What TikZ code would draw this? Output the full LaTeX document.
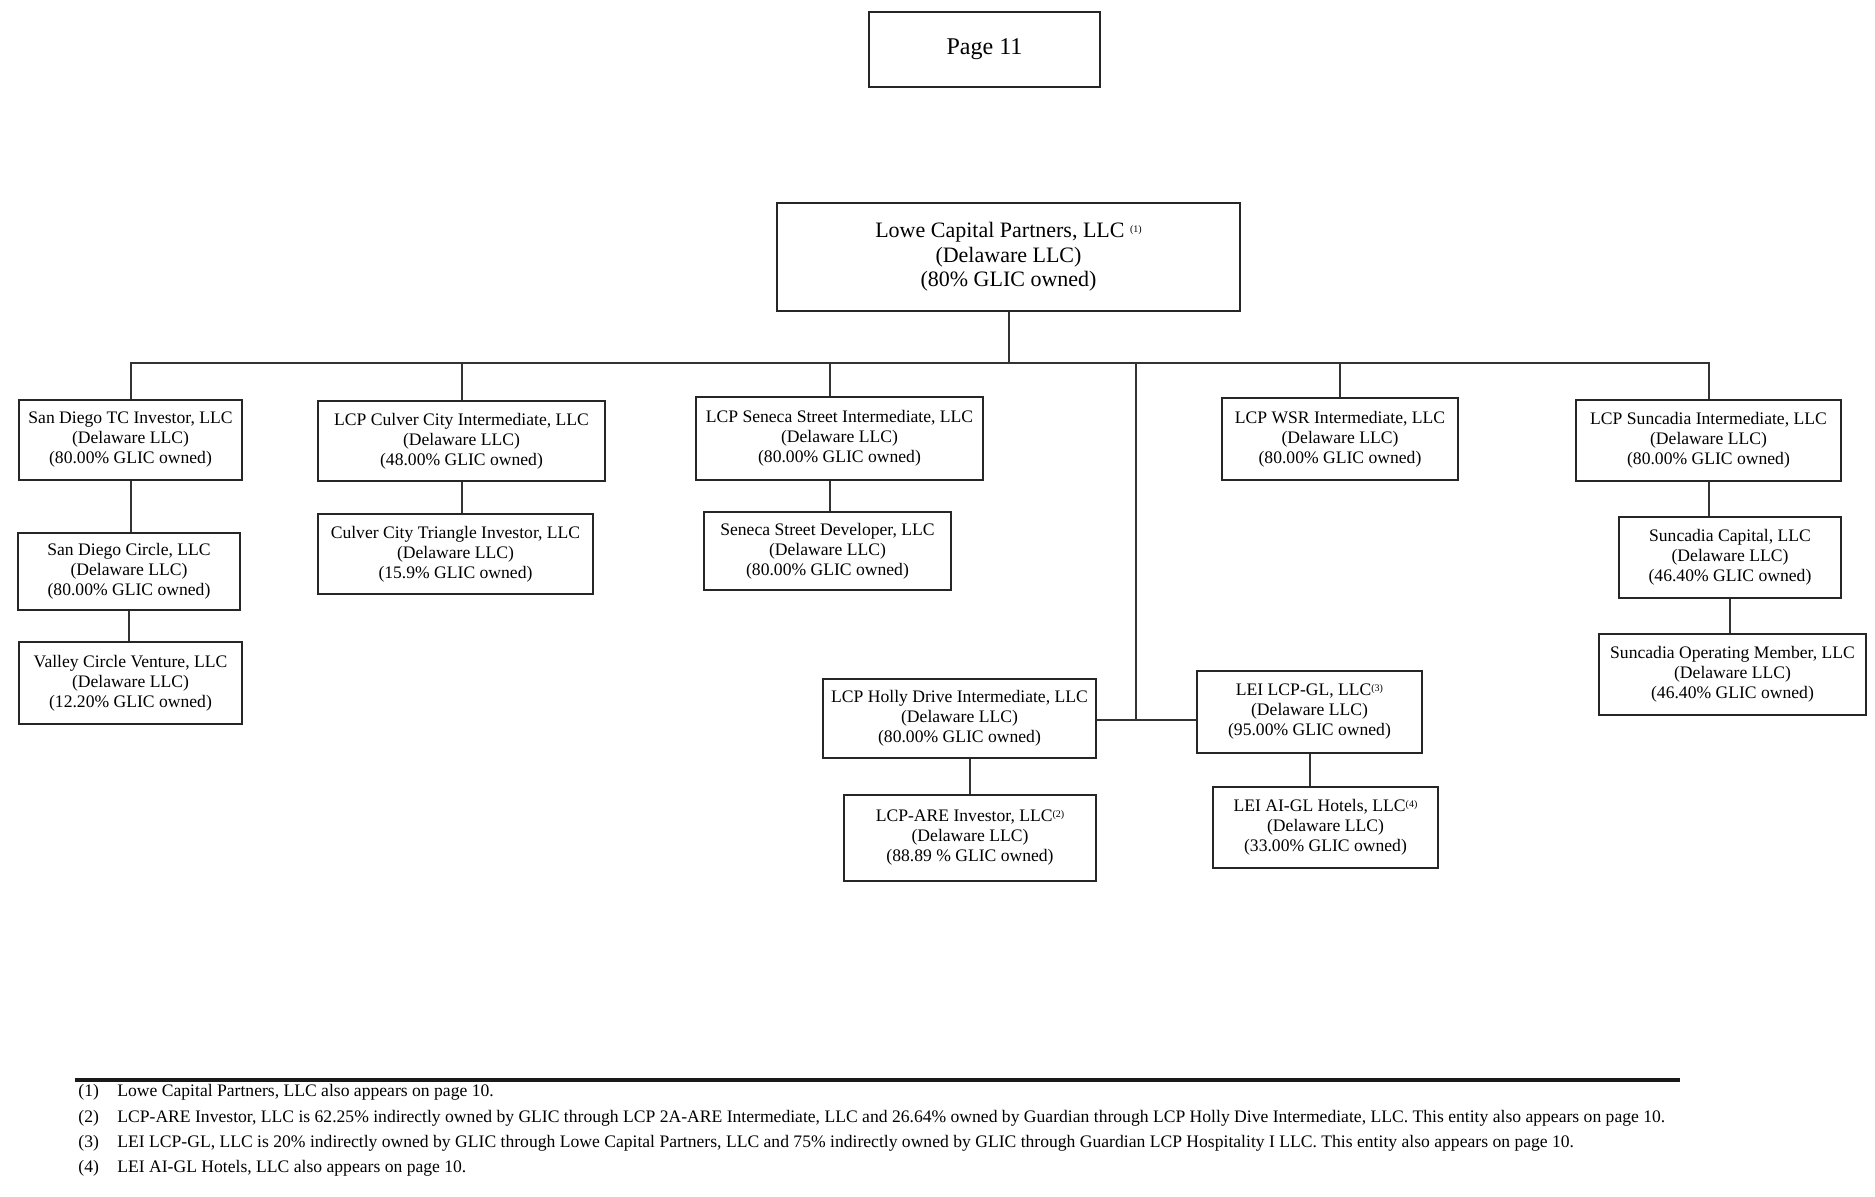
\documentclass[tikz,border=0pt]{standalone}
\usepackage{fontspec}
\setmainfont{Liberation Serif}
\newcommand\supref[1]{\raisebox{0.55ex}{\fontsize{5}{5}\selectfont(#1)}}
\begin{document}
\begin{tikzpicture}[x=0.5pt,y=-0.5pt,
  ent/.style={draw=black!85, line width=1.2pt, fill=white, align=center, inner sep=1pt,
              font=\fontsize{8.8}{10}\selectfont},
  con/.style={draw=black!80, line width=1pt},
  fn/.style={anchor=west, inner sep=0pt, font=\fontsize{8.8}{10}\selectfont}]
\useasboundingbox (0,0) rectangle (1875,1196);
\fill[white] (0,0) rectangle (1875,1196);

% title
\node[ent, minimum width=115.5pt, minimum height=37.5pt, font=\fontsize{12}{14}\selectfont] (page) at (984.5,49.5) {Page 11};

% top entity
\node[ent, minimum width=231.5pt, minimum height=54pt, font=\fontsize{11}{12.3}\selectfont] (lowe) at (1008.5,257)
  {Lowe Capital Partners, LLC \supref{1}\\(Delaware LLC)\\(80\% GLIC owned)};

% first row
\node[ent, minimum width=111.5pt, minimum height=40pt] (sdtc) at (130.5,440)
  {San Diego TC Investor, LLC\\(Delaware LLC)\\(80.00\% GLIC owned)};
\node[ent, minimum width=143.5pt, minimum height=40pt] (culver) at (461.5,441)
  {LCP Culver City Intermediate, LLC\\(Delaware LLC)\\(48.00\% GLIC owned)};
\node[ent, minimum width=143.5pt, minimum height=41.5pt] (seneca) at (839.5,438.5)
  {LCP Seneca Street Intermediate, LLC\\(Delaware LLC)\\(80.00\% GLIC owned)};
\node[ent, minimum width=118pt, minimum height=41pt] (wsr) at (1340,439)
  {LCP WSR Intermediate, LLC\\(Delaware LLC)\\(80.00\% GLIC owned)};
\node[ent, minimum width=132.5pt, minimum height=40.5pt] (sunint) at (1708.5,440.5)
  {LCP Suncadia Intermediate, LLC\\(Delaware LLC)\\(80.00\% GLIC owned)};

% second row
\node[ent, minimum width=111pt, minimum height=38.5pt] (sdcircle) at (129,571.5)
  {San Diego Circle, LLC\\(Delaware LLC)\\(80.00\% GLIC owned)};
\node[ent, minimum width=137.5pt, minimum height=40pt] (culvertri) at (455.5,554)
  {Culver City Triangle Investor, LLC\\(Delaware LLC)\\(15.9\% GLIC owned)};
\node[ent, minimum width=123.5pt, minimum height=39pt] (senecadev) at (827.5,551)
  {Seneca Street Developer, LLC\\(Delaware LLC)\\(80.00\% GLIC owned)};
\node[ent, minimum width=111pt, minimum height=40.5pt] (suncap) at (1730,557.5)
  {Suncadia Capital, LLC\\(Delaware LLC)\\(46.40\% GLIC owned)};

% third row
\node[ent, minimum width=111.5pt, minimum height=41pt] (valley) at (130.5,683)
  {Valley Circle Venture, LLC\\(Delaware LLC)\\(12.20\% GLIC owned)};
\node[ent, minimum width=133.5pt, minimum height=40.5pt] (sunop) at (1732.5,674.5)
  {Suncadia Operating Member, LLC\\(Delaware LLC)\\(46.40\% GLIC owned)};

% middle branch
\node[ent, minimum width=136.5pt, minimum height=39.5pt] (holly) at (959.5,718.5)
  {LCP Holly Drive Intermediate, LLC\\(Delaware LLC)\\(80.00\% GLIC owned)};
\node[ent, minimum width=112.5pt, minimum height=41pt] (leigl) at (1309.5,712)
  {LEI LCP-GL, LLC\supref{3}\\(Delaware LLC)\\(95.00\% GLIC owned)};
\node[ent, minimum width=126pt, minimum height=43pt] (lcpare) at (970,838)
  {LCP-ARE Investor, LLC\supref{2}\\(Delaware LLC)\\(88.89 \% GLIC owned)};
\node[ent, minimum width=112.5pt, minimum height=40.5pt] (aigl) at (1325.5,827.5)
  {LEI AI-GL Hotels, LLC\supref{4}\\(Delaware LLC)\\(33.00\% GLIC owned)};

% connectors
\coordinate (bus) at (1008,363);
\coordinate (trunk) at (1136,720);
\draw[con] (lowe.south) -- (lowe.south |- bus);
\draw[con] (sdtc.north) -- (sdtc.north |- bus) -- (sunint.north |- bus) -- (sunint.north);
\draw[con] (culver.north) -- (culver.north |- bus);
\draw[con] ([xshift=-4.75pt]seneca.north) -- ([xshift=-4.75pt]seneca.north |- bus);
\draw[con] (wsr.north) -- (wsr.north |- bus);
\draw[con] (trunk |- bus) -- (trunk);
\draw[con] (holly.east |- trunk) -- (leigl.west |- trunk);

\draw[con] (sdtc.south) -- (sdtc.south |- sdcircle.north);
\draw[con] (sdcircle.south) -- (sdcircle.south |- valley.north);
\draw[con] (culver.south) -- (culver.south |- culvertri.north);
\draw[con] ([xshift=-4.75pt]seneca.south) -- ([xshift=-4.75pt]seneca.south |- senecadev.north);
\draw[con] (sunint.south) -- (sunint.south |- suncap.north);
\draw[con] (suncap.south) -- (suncap.south |- sunop.north);
\draw[con] (lcpare.north |- holly.south) -- (lcpare.north);
\draw[con] (leigl.south) -- (leigl.south |- aigl.north);

% footnotes
\coordinate (ruleL) at (75,1080);
\coordinate (ruleR) at (1680,1080);
\draw[line width=2pt, black!90] (ruleL) -- (ruleR);
\node[fn] (n1) at (78,1092) {(1)};
\node[fn] (t1) at (117,1092) {Lowe Capital Partners, LLC also appears on page 10.};
\node[fn] (n2) at (78,1118) {(2)};
\node[fn] (t2) at (117,1118) {LCP-ARE Investor, LLC is 62.25\% indirectly owned by GLIC through LCP 2A-ARE Intermediate, LLC and 26.64\% owned by Guardian through LCP Holly Dive Intermediate, LLC. This entity also appears on page 10.};
\node[fn] (n3) at (78,1143) {(3)};
\node[fn] (t3) at (117,1143) {LEI LCP-GL, LLC is 20\% indirectly owned by GLIC through Lowe Capital Partners, LLC and 75\% indirectly owned by GLIC through Guardian LCP Hospitality I LLC. This entity also appears on page 10.};
\node[fn] (n4) at (78,1168) {(4)};
\node[fn] (t4) at (117,1168) {LEI AI-GL Hotels, LLC also appears on page 10.};
\end{tikzpicture}
\end{document}
